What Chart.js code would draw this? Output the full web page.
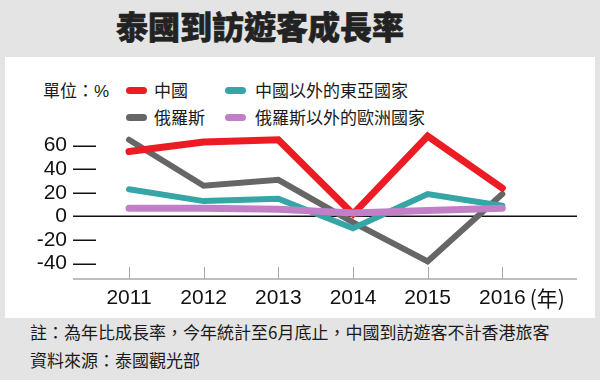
<!DOCTYPE html>
<html><head><meta charset="utf-8">
<script src="https://cdn.jsdelivr.net/npm/chart.js@4"></script>
<style>
html,body{margin:0;padding:0;}
body{width:600px;height:380px;background:#e4e4e4;position:relative;overflow:hidden;font-family:"Noto Sans CJK TC","Noto Sans",sans-serif;color:#1a1a1a;}
#panel{position:absolute;left:5px;top:57px;width:590px;height:261px;background:#fff;}
#title{position:absolute;left:0;top:0;width:520px;height:50px;line-height:50px;text-align:center;font-size:32px;font-weight:900;color:#222;-webkit-text-stroke:0.6px #222;}
canvas{position:absolute;left:0;top:0;}
.lg{position:absolute;font-size:17px;line-height:20px;height:20px;white-space:nowrap;color:#1a1a1a;}
.sw{position:absolute;width:21px;height:7px;border-radius:4px;}
.ft{position:absolute;left:30px;font-size:17px;line-height:28px;white-space:nowrap;color:#1a1a1a;}
</style></head>
<body>
<div id="panel"></div>
<div id="title">泰國到訪遊客成長率</div>
<div class="lg" style="left:43px;top:80px;">單位：<span style="font-family:'Liberation Sans',sans-serif;">%</span></div>
<div id="legend"></div>
<div class="ft" style="top:318px;">註：為年比成長率，今年統計至6月底止，中國到訪遊客不計香港旅客</div>
<div class="ft" style="top:346px;">資料來源：泰國觀光部</div>
<canvas id="c" width="600" height="380"></canvas>
<script>
const years = [2011, 2012, 2013, 2014, 2015, 2016];
const china = [55, 63, 65, 2, 68, 24];
const russia = [65, 26, 31, -5, -38, 19];
const eastAsia = [23, 13, 15, -10, 19, 9];
const europe = [7, 7, 6, 3, 5, 7];
const yTicks = [-40, -20, 0, 20, 40, 60];
const seriesNames = ['中國', '俄羅斯', '中國以外的東亞國家', '俄羅斯以外的歐洲國家'];
const seriesColors = ['#ec1c24', '#666666', '#35a5a6', '#c27fc8'];
const yearUnit = '(年)';

const seriesValues = [china, russia, eastAsia, europe];
const widths = [7, 6, 6, 7];
const orders = [2, 4, 3, 1];

// HTML legend built from series names / colours
const legendPos = [[126,154,90],[126,154,117],[225,255,90],[225,255,117]];
const lg = document.getElementById('legend');
seriesNames.forEach((n,i)=>{
  const p = legendPos[i];
  const sw = document.createElement('div');
  sw.className='sw'; sw.style.left=p[0]+'px'; sw.style.top=(p[2]-3.5)+'px'; sw.style.background=seriesColors[i];
  lg.appendChild(sw);
  const t = document.createElement('div');
  t.className='lg'; t.style.left=p[1]+'px'; t.style.top=(p[2]-10)+'px'; t.textContent=n;
  lg.appendChild(t);
});

const axisPlugin = {
  id:'axisPlugin',
  beforeDatasetsDraw(chart){
    const {ctx, chartArea:a, scales:{x,y}} = chart;
    ctx.save();
    ctx.strokeStyle='#111'; ctx.lineWidth=1.5;
    yTicks.forEach(v=>{
      const py = Math.round(y.getPixelForValue(v))+0.25;
      ctx.beginPath();
      if(v===0){ ctx.moveTo(a.left,py); ctx.lineTo(a.right,py); }
      else { ctx.moveTo(a.left,py); ctx.lineTo(a.left+23,py); }
      ctx.stroke();
    });
    ctx.strokeStyle='#a8a8a8'; ctx.lineWidth=1.5;
    ctx.beginPath(); ctx.moveTo(a.left,a.bottom); ctx.lineTo(a.right,a.bottom); ctx.stroke();
    ctx.lineWidth=1;
    years.forEach(v=>{
      const px = Math.round(x.getPixelForValue(v))+0.5;
      ctx.beginPath(); ctx.moveTo(px,a.bottom-12); ctx.lineTo(px,a.bottom); ctx.stroke();
    });
    ctx.restore();
  },
  afterDraw(chart){
    const {ctx, chartArea:a, scales:{x}} = chart;
    ctx.save();
    ctx.font = '21px "Liberation Sans", Arial, sans-serif';
    const last = years[years.length-1];
    const w = ctx.measureText(String(last)).width;
    const px = x.getPixelForValue(last) + w/2 + 4;
    ctx.font = '21px "Noto Sans CJK TC", sans-serif';
    ctx.fillStyle = '#111';
    ctx.textBaseline = 'middle';
    ctx.textAlign = 'left';
    ctx.fillText(yearUnit, px, a.bottom + 19.5);
    ctx.restore();
  }
};

new Chart(document.getElementById('c'), {
  type:'line',
  data:{
    datasets: seriesNames.map((n,i)=>({
      label:n,
      data: years.map((yr,j)=>({x:yr, y:seriesValues[i][j]})),
      borderColor: seriesColors[i],
      backgroundColor: seriesColors[i],
      borderWidth: widths[i],
      pointRadius:0,
      tension:0,
      borderCapStyle:'round',
      borderJoinStyle:'miter',
      order: orders[i],
      fill:false
    }))
  },
  options:{
    responsive:false,
    animation:false,
    devicePixelRatio:1,
    layout:{padding:{top:122,right:23,left:0,bottom:0}},
    plugins:{legend:{display:false},tooltip:{enabled:false}},
    scales:{
      x:{
        type:'linear', min:2010.25, max:2017,
        afterBuildTicks: s=>{ s.ticks = years.map(v=>({value:v})); },
        afterFit: s=>{ s.height = 101; },
        grid:{display:false, drawTicks:false}, border:{display:false},
        ticks:{autoSkip:false, maxRotation:0, padding:7, color:'#111',
          font:{family:'"Liberation Sans", Arial, sans-serif', size:21},
          callback:v=>String(v)}
      },
      y:{
        min:-53, max:80,
        afterBuildTicks: s=>{ s.ticks = yTicks.map(v=>({value:v})); },
        afterFit: s=>{ s.width = 73; },
        grid:{display:false, drawTicks:false}, border:{display:false},
        ticks:{padding:6, color:'#111',
          font:{family:'"Liberation Sans", Arial, sans-serif', size:21},
          callback:v=>String(v)}
      }
    }
  },
  plugins:[axisPlugin]
});
</script>
</body></html>
